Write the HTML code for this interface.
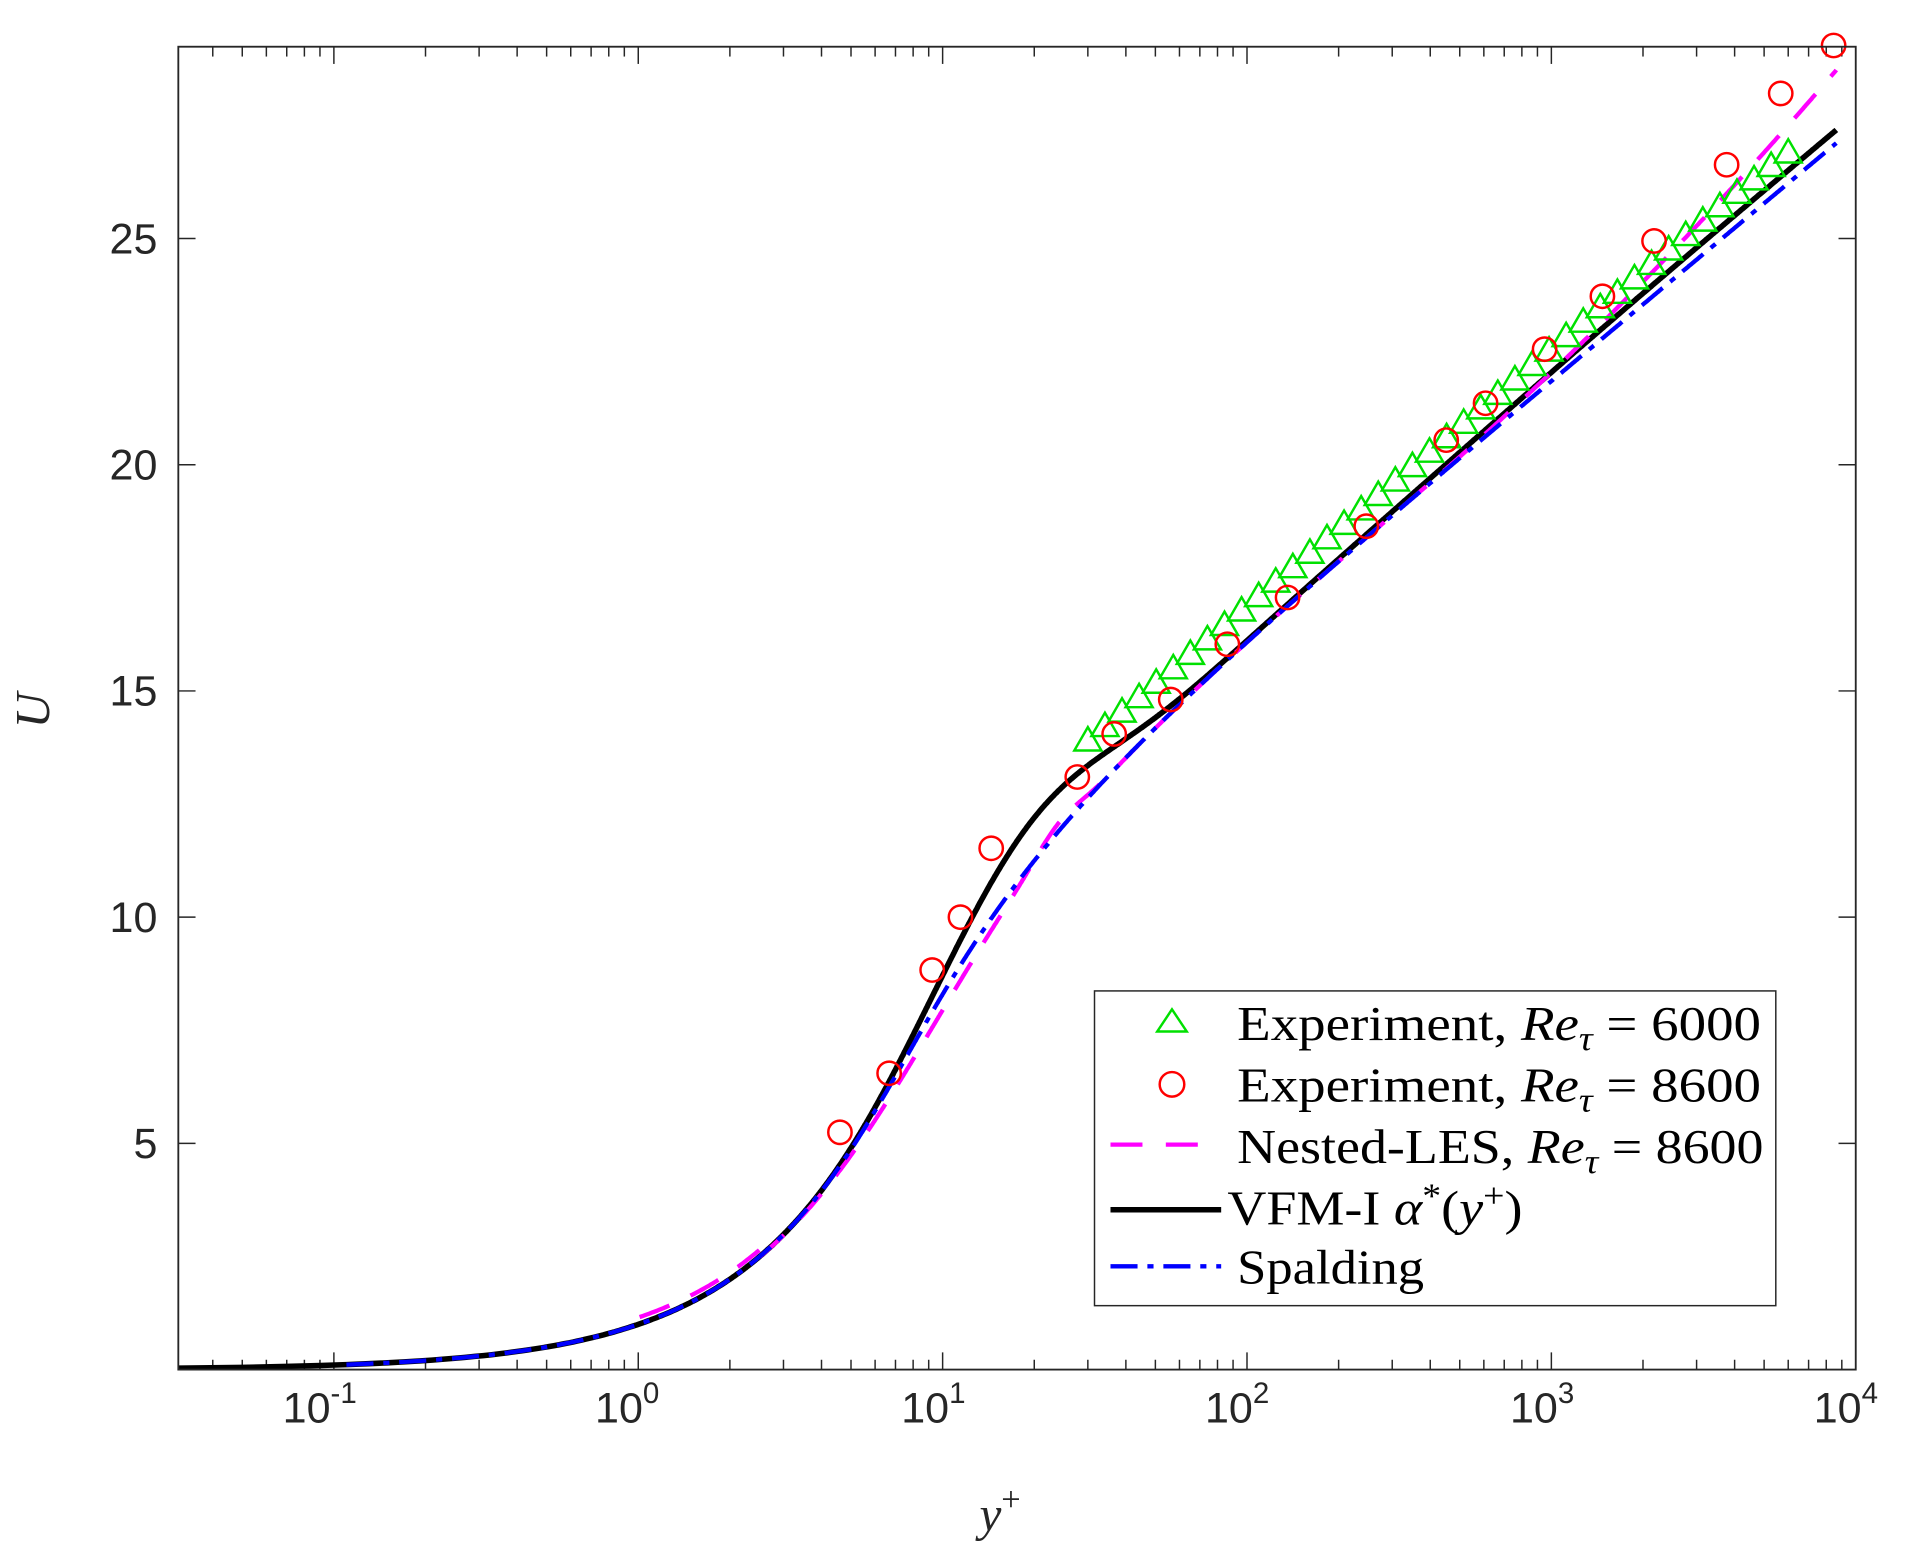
<!DOCTYPE html>
<html><head><meta charset="utf-8"><style>
html,body{margin:0;padding:0;background:#fff;}
svg{display:block;}
.t{font-family:"Liberation Sans",sans-serif;font-size:35px;fill:#262626;}
.l{font-family:"Liberation Serif",serif;font-size:40px;fill:#000;}
</style></head><body>
<svg id="s" width="1916" height="1554" viewBox="0 0 1558 1264" preserveAspectRatio="none" xmlns="http://www.w3.org/2000/svg">
<rect x="0" y="0" width="1558" height="1264" fill="#fff"/>
<g id="ticks" stroke="#262626" stroke-width="1.2" fill="none"></g>
<clipPath id="cp"><rect x="145" y="38" width="1364" height="1076"/></clipPath>
<g id="curves" clip-path="url(#cp)"></g>
<g id="marks"></g>
<rect x="145" y="38" width="1364" height="1076" fill="none" stroke="#262626" stroke-width="1.5"/>
<g class="t" text-anchor="middle">
<text x="260" y="1157">10<tspan dy="-16" font-size="24">-1</tspan></text>
<text x="510" y="1157">10<tspan dy="-16" font-size="24">0</tspan></text>
<text x="759" y="1157">10<tspan dy="-16" font-size="24">1</tspan></text>
<text x="1006" y="1157">10<tspan dy="-16" font-size="24">2</tspan></text>
<text x="1254" y="1157">10<tspan dy="-16" font-size="24">3</tspan></text>
<text x="1501" y="1157">10<tspan dy="-16" font-size="24">4</tspan></text>
</g>
<g class="t" text-anchor="end">
<text x="128" y="206">25</text>
<text x="128" y="390">20</text>
<text x="128" y="574">15</text>
<text x="128" y="758">10</text>
<text x="128" y="942">5</text>
</g>
<text x="830" y="1245" font-family="Liberation Serif,serif" font-style="italic" font-size="40" fill="#262626" text-anchor="end">y<tspan dy="-16" font-size="28" font-style="normal">+</tspan></text>
<text x="40" y="578" font-family="Liberation Serif,serif" font-style="italic" font-size="40" fill="#262626" text-anchor="middle" transform="rotate(-90 40 578)">U</text>
<rect x="890" y="806" width="554" height="256" fill="#fff" stroke="#262626" stroke-width="1.2"/>
<polygon points="953,821 941,839 965,839" fill="none" stroke="#00e000" stroke-width="2"/>
<circle cx="953" cy="882" r="10" fill="none" stroke="#ff0000" stroke-width="2"/>
<line x1="903" y1="931" x2="993" y2="931" stroke="#ff00ff" stroke-width="3.5" stroke-dasharray="26,19"/>
<line x1="903" y1="984" x2="993" y2="984" stroke="#000" stroke-width="4.5"/>
<line x1="903" y1="1030" x2="993" y2="1030" stroke="#0000ff" stroke-width="3.5" stroke-dasharray="22,8,5,8"/>
<g class="l">
<text x="1006" y="846" textLength="426" lengthAdjust="spacingAndGlyphs">Experiment, <tspan font-style="italic">Re</tspan><tspan font-style="italic" font-size="28" dy="8">τ</tspan><tspan dy="-8"> = 6000</tspan></text>
<text x="1006" y="896" textLength="426" lengthAdjust="spacingAndGlyphs">Experiment, <tspan font-style="italic">Re</tspan><tspan font-style="italic" font-size="28" dy="8">τ</tspan><tspan dy="-8"> = 8600</tspan></text>
<text x="1006" y="946" textLength="428" lengthAdjust="spacingAndGlyphs">Nested-LES, <tspan font-style="italic">Re</tspan><tspan font-style="italic" font-size="28" dy="8">τ</tspan><tspan dy="-8"> = 8600</tspan></text>
<text x="998" y="996" textLength="240" lengthAdjust="spacingAndGlyphs">VFM-I <tspan font-style="italic">α</tspan><tspan font-size="28" dy="-14">*</tspan><tspan dy="14">(</tspan><tspan font-style="italic">y</tspan><tspan font-size="28" dy="-14">+</tspan><tspan dy="14">)</tspan></text>
<text x="1006" y="1044" textLength="152" lengthAdjust="spacingAndGlyphs">Spalding</text>
</g>
</svg>
<script>
var NS="http://www.w3.org/2000/svg";
function X(y){return 519+247.5*Math.log10(y);}
function Y(u){return 1114-36.8*u;}
function el(p,t,a){var e=document.createElementNS(NS,t);for(var k in a)e.setAttribute(k,a[k]);document.getElementById(p).appendChild(e);return e;}
for(var d=-2;d<4;d++)for(var m=1;m<10;m++){var x=X(m*Math.pow(10,d));if(x<145||x>1509)continue;var L=m==1?14:8;
el("ticks","line",{x1:x,y1:1114,x2:x,y2:1114-L});el("ticks","line",{x1:x,y1:38,x2:x,y2:38+L});}
[5,10,15,20,25].forEach(function(u){var y=Y(u);el("ticks","line",{x1:145,y1:y,x2:159,y2:y});el("ticks","line",{x1:1509,y1:y,x2:1495,y2:y});});
var k=0.41,B=5.0,E=Math.exp(-k*B);
function sp(u){var a=k*u;return u+E*(Math.exp(a)-1-a-a*a/2-a*a*a/6);}
var S=[];for(var u=0.01;u<27.5;u+=0.02){var y=sp(u);if(y>8700)break;S.push([y,u]);}
function lg(y){return Math.log10(y);}
function path(f,lo,hi){var d="",n=0;S.forEach(function(p){if(p[0]<lo||p[0]>hi)return;var v=f(p[0],p[1]);d+=(n++?"L":"M")+X(p[0]).toFixed(1)+","+Y(v).toFixed(1);});return d;}
// black
var db=path(function(y,u){var l=lg(y);return u+0.95*Math.exp(-Math.pow((l-1.3)/0.33,2))+0.3/(1+Math.exp(-(l-2.8)*3));},0.001,1e5);
el("curves","path",{d:"M145,"+Y(0.03)+"L"+db.slice(1),fill:"none",stroke:"#000","stroke-width":4.5});
// magenta
function mf(y,u){var l=lg(y);var dd=-0.35*Math.exp(-Math.pow((l-1.0)/0.3,2));if(l>2.5)dd+=1.6*Math.pow((l-2.5)/1.43,2);dd+=0.25*Math.exp(-Math.pow((l-1.38)/0.1,2));return u+dd;}
el("curves","path",{d:path(function(y,u){return u+0.15;},1,2.5),fill:"none",stroke:"#ff00ff","stroke-width":3.5,"stroke-dasharray":"26,19"});
el("curves","path",{d:path(mf,2.5,1e5),fill:"none",stroke:"#ff00ff","stroke-width":3.5,"stroke-dasharray":"26,19"});
// blue
el("curves","path",{d:path(function(y,u){return u;},0.1,1e5),fill:"none",stroke:"#0000ff","stroke-width":3.5,"stroke-dasharray":"22,8,5,8"});
// triangles
for(var i=0;i<42;i++){var l=Math.log10(30)+i*(Math.log10(6000)-Math.log10(30))/41;var y=Math.pow(10,l);var u=2.47*Math.log(y)+5.5;if(l>3.55)u-=(l-3.55)*0.4;
var cx=X(y),cy=Y(u);el("marks","polygon",{points:cx+","+(cy-11)+" "+(cx-11)+","+(cy+8)+" "+(cx+11)+","+(cy+8),fill:"none",stroke:"#00e000","stroke-width":2});}
[[683,921],[723,873],[758,789],[781,746],[806,690],[876,632],[906,597],[952,569],[998,524],[1047,486],[1111,428],[1176,358],[1208,328],[1256,284],[1303,241],[1345,196],[1404,134],[1448,76],[1491,37]].forEach(function(p){el("marks","circle",{cx:p[0],cy:p[1],r:9.5,fill:"none",stroke:"#ff0000","stroke-width":2});});
</script>
</body></html>
